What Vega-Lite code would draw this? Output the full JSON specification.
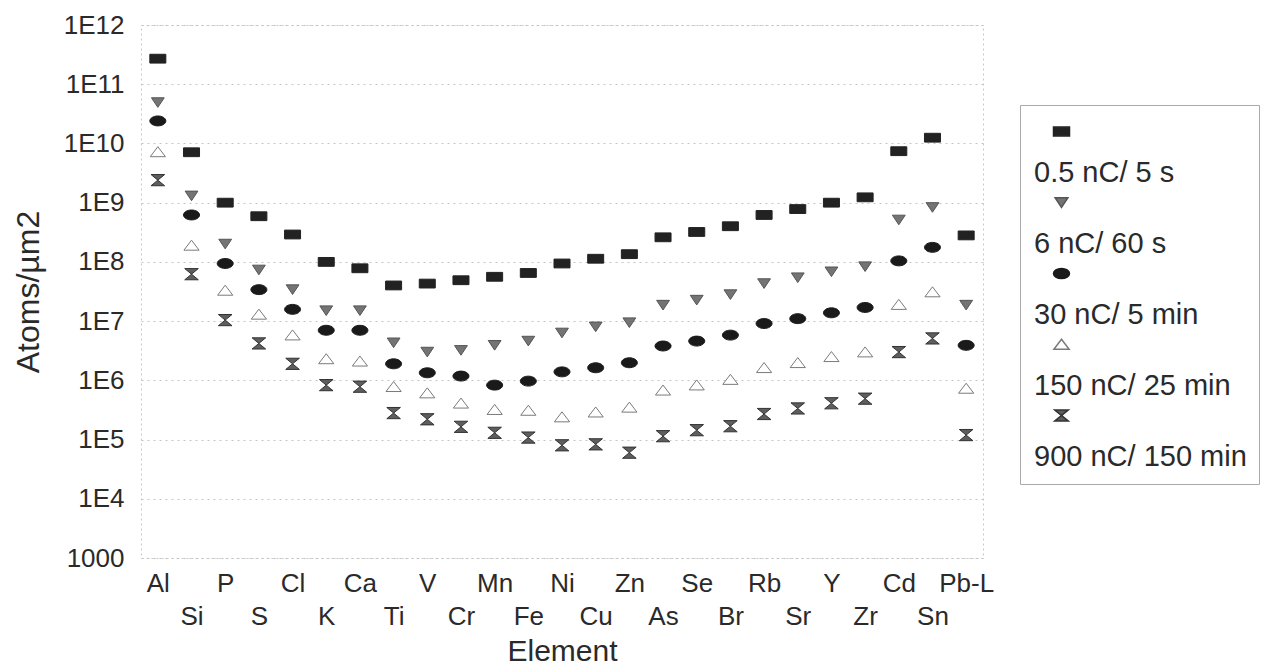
{
  "$schema": "https://vega.github.io/schema/vega-lite/v6.json",
  "width": 842,
  "height": 533,
  "autosize": "none",
  "padding": {"left": 141, "top": 25, "right": 290, "bottom": 110},
  "background": "white",
  "config": {
    "font": "Liberation Sans",
    "view": {"stroke": "#c8c8c8", "strokeDash": [2, 3]}
  },
  "data": {
    "values": [
      {"el": "Al", "s": "0.5 nC/ 5 s", "v": 2.7e11}, {"el": "Al", "s": "6 nC/ 60 s", "v": 4.9e10}, {"el": "Al", "s": "30 nC/ 5 min", "v": 2.4e10}, {"el": "Al", "s": "150 nC/ 25 min", "v": 7.2e9}, {"el": "Al", "s": "900 nC/ 150 min", "v": 2.4e9},
      {"el": "Si", "s": "0.5 nC/ 5 s", "v": 7.1e9}, {"el": "Si", "s": "6 nC/ 60 s", "v": 1.3e9}, {"el": "Si", "s": "30 nC/ 5 min", "v": 6.2e8}, {"el": "Si", "s": "150 nC/ 25 min", "v": 1.9e8}, {"el": "Si", "s": "900 nC/ 150 min", "v": 6.2e7},
      {"el": "P", "s": "0.5 nC/ 5 s", "v": 1.0e9}, {"el": "P", "s": "6 nC/ 60 s", "v": 2.0e8}, {"el": "P", "s": "30 nC/ 5 min", "v": 9.4e7}, {"el": "P", "s": "150 nC/ 25 min", "v": 3.3e7}, {"el": "P", "s": "900 nC/ 150 min", "v": 1.04e7},
      {"el": "S", "s": "0.5 nC/ 5 s", "v": 5.9e8}, {"el": "S", "s": "6 nC/ 60 s", "v": 7.3e7}, {"el": "S", "s": "30 nC/ 5 min", "v": 3.4e7}, {"el": "S", "s": "150 nC/ 25 min", "v": 1.3e7}, {"el": "S", "s": "900 nC/ 150 min", "v": 4.2e6},
      {"el": "Cl", "s": "0.5 nC/ 5 s", "v": 2.9e8}, {"el": "Cl", "s": "6 nC/ 60 s", "v": 3.4e7}, {"el": "Cl", "s": "30 nC/ 5 min", "v": 1.58e7}, {"el": "Cl", "s": "150 nC/ 25 min", "v": 5.8e6}, {"el": "Cl", "s": "900 nC/ 150 min", "v": 1.9e6},
      {"el": "K", "s": "0.5 nC/ 5 s", "v": 1.0e8}, {"el": "K", "s": "6 nC/ 60 s", "v": 1.5e7}, {"el": "K", "s": "30 nC/ 5 min", "v": 7.0e6}, {"el": "K", "s": "150 nC/ 25 min", "v": 2.3e6}, {"el": "K", "s": "900 nC/ 150 min", "v": 8.3e5},
      {"el": "Ca", "s": "0.5 nC/ 5 s", "v": 7.8e7}, {"el": "Ca", "s": "6 nC/ 60 s", "v": 1.5e7}, {"el": "Ca", "s": "30 nC/ 5 min", "v": 7.0e6}, {"el": "Ca", "s": "150 nC/ 25 min", "v": 2.1e6}, {"el": "Ca", "s": "900 nC/ 150 min", "v": 7.8e5},
      {"el": "Ti", "s": "0.5 nC/ 5 s", "v": 4.0e7}, {"el": "Ti", "s": "6 nC/ 60 s", "v": 4.3e6}, {"el": "Ti", "s": "30 nC/ 5 min", "v": 1.9e6}, {"el": "Ti", "s": "150 nC/ 25 min", "v": 7.8e5}, {"el": "Ti", "s": "900 nC/ 150 min", "v": 2.8e5},
      {"el": "V", "s": "0.5 nC/ 5 s", "v": 4.3e7}, {"el": "V", "s": "6 nC/ 60 s", "v": 3.0e6}, {"el": "V", "s": "30 nC/ 5 min", "v": 1.34e6}, {"el": "V", "s": "150 nC/ 25 min", "v": 6.1e5}, {"el": "V", "s": "900 nC/ 150 min", "v": 2.2e5},
      {"el": "Cr", "s": "0.5 nC/ 5 s", "v": 4.9e7}, {"el": "Cr", "s": "6 nC/ 60 s", "v": 3.2e6}, {"el": "Cr", "s": "30 nC/ 5 min", "v": 1.18e6}, {"el": "Cr", "s": "150 nC/ 25 min", "v": 4.1e5}, {"el": "Cr", "s": "900 nC/ 150 min", "v": 1.64e5},
      {"el": "Mn", "s": "0.5 nC/ 5 s", "v": 5.6e7}, {"el": "Mn", "s": "6 nC/ 60 s", "v": 3.9e6}, {"el": "Mn", "s": "30 nC/ 5 min", "v": 8.3e5}, {"el": "Mn", "s": "150 nC/ 25 min", "v": 3.2e5}, {"el": "Mn", "s": "900 nC/ 150 min", "v": 1.3e5},
      {"el": "Fe", "s": "0.5 nC/ 5 s", "v": 6.5e7}, {"el": "Fe", "s": "6 nC/ 60 s", "v": 4.6e6}, {"el": "Fe", "s": "30 nC/ 5 min", "v": 9.7e5}, {"el": "Fe", "s": "150 nC/ 25 min", "v": 3.1e5}, {"el": "Fe", "s": "900 nC/ 150 min", "v": 1.08e5},
      {"el": "Ni", "s": "0.5 nC/ 5 s", "v": 9.4e7}, {"el": "Ni", "s": "6 nC/ 60 s", "v": 6.3e6}, {"el": "Ni", "s": "30 nC/ 5 min", "v": 1.39e6}, {"el": "Ni", "s": "150 nC/ 25 min", "v": 2.4e5}, {"el": "Ni", "s": "900 nC/ 150 min", "v": 8.0e4},
      {"el": "Cu", "s": "0.5 nC/ 5 s", "v": 1.13e8}, {"el": "Cu", "s": "6 nC/ 60 s", "v": 8.0e6}, {"el": "Cu", "s": "30 nC/ 5 min", "v": 1.63e6}, {"el": "Cu", "s": "150 nC/ 25 min", "v": 2.9e5}, {"el": "Cu", "s": "900 nC/ 150 min", "v": 8.3e4},
      {"el": "Zn", "s": "0.5 nC/ 5 s", "v": 1.35e8}, {"el": "Zn", "s": "6 nC/ 60 s", "v": 9.4e6}, {"el": "Zn", "s": "30 nC/ 5 min", "v": 1.98e6}, {"el": "Zn", "s": "150 nC/ 25 min", "v": 3.5e5}, {"el": "Zn", "s": "900 nC/ 150 min", "v": 6.0e4},
      {"el": "As", "s": "0.5 nC/ 5 s", "v": 2.6e8}, {"el": "As", "s": "6 nC/ 60 s", "v": 1.86e7}, {"el": "As", "s": "30 nC/ 5 min", "v": 3.8e6}, {"el": "As", "s": "150 nC/ 25 min", "v": 6.8e5}, {"el": "As", "s": "900 nC/ 150 min", "v": 1.14e5},
      {"el": "Se", "s": "0.5 nC/ 5 s", "v": 3.2e8}, {"el": "Se", "s": "6 nC/ 60 s", "v": 2.26e7}, {"el": "Se", "s": "30 nC/ 5 min", "v": 4.6e6}, {"el": "Se", "s": "150 nC/ 25 min", "v": 8.3e5}, {"el": "Se", "s": "900 nC/ 150 min", "v": 1.44e5},
      {"el": "Br", "s": "0.5 nC/ 5 s", "v": 4.0e8}, {"el": "Br", "s": "6 nC/ 60 s", "v": 2.8e7}, {"el": "Br", "s": "30 nC/ 5 min", "v": 5.8e6}, {"el": "Br", "s": "150 nC/ 25 min", "v": 1.03e6}, {"el": "Br", "s": "900 nC/ 150 min", "v": 1.68e5},
      {"el": "Rb", "s": "0.5 nC/ 5 s", "v": 6.2e8}, {"el": "Rb", "s": "6 nC/ 60 s", "v": 4.3e7}, {"el": "Rb", "s": "30 nC/ 5 min", "v": 9.1e6}, {"el": "Rb", "s": "150 nC/ 25 min", "v": 1.63e6}, {"el": "Rb", "s": "900 nC/ 150 min", "v": 2.7e5},
      {"el": "Sr", "s": "0.5 nC/ 5 s", "v": 7.8e8}, {"el": "Sr", "s": "6 nC/ 60 s", "v": 5.4e7}, {"el": "Sr", "s": "30 nC/ 5 min", "v": 1.1e7}, {"el": "Sr", "s": "150 nC/ 25 min", "v": 1.98e6}, {"el": "Sr", "s": "900 nC/ 150 min", "v": 3.35e5},
      {"el": "Y", "s": "0.5 nC/ 5 s", "v": 1.0e9}, {"el": "Y", "s": "6 nC/ 60 s", "v": 6.8e7}, {"el": "Y", "s": "30 nC/ 5 min", "v": 1.38e7}, {"el": "Y", "s": "150 nC/ 25 min", "v": 2.5e6}, {"el": "Y", "s": "900 nC/ 150 min", "v": 4.1e5},
      {"el": "Zr", "s": "0.5 nC/ 5 s", "v": 1.23e9}, {"el": "Zr", "s": "6 nC/ 60 s", "v": 8.3e7}, {"el": "Zr", "s": "30 nC/ 5 min", "v": 1.7e7}, {"el": "Zr", "s": "150 nC/ 25 min", "v": 3.0e6}, {"el": "Zr", "s": "900 nC/ 150 min", "v": 4.9e5},
      {"el": "Cd", "s": "0.5 nC/ 5 s", "v": 7.4e9}, {"el": "Cd", "s": "6 nC/ 60 s", "v": 5.1e8}, {"el": "Cd", "s": "30 nC/ 5 min", "v": 1.04e8}, {"el": "Cd", "s": "150 nC/ 25 min", "v": 1.9e7}, {"el": "Cd", "s": "900 nC/ 150 min", "v": 3.0e6},
      {"el": "Sn", "s": "0.5 nC/ 5 s", "v": 1.25e10}, {"el": "Sn", "s": "6 nC/ 60 s", "v": 8.3e8}, {"el": "Sn", "s": "30 nC/ 5 min", "v": 1.76e8}, {"el": "Sn", "s": "150 nC/ 25 min", "v": 3.1e7}, {"el": "Sn", "s": "900 nC/ 150 min", "v": 5.1e6},
      {"el": "Pb-L", "s": "0.5 nC/ 5 s", "v": 2.8e8}, {"el": "Pb-L", "s": "6 nC/ 60 s", "v": 1.86e7}, {"el": "Pb-L", "s": "30 nC/ 5 min", "v": 3.9e6}, {"el": "Pb-L", "s": "150 nC/ 25 min", "v": 7.3e5}, {"el": "Pb-L", "s": "900 nC/ 150 min", "v": 1.19e5}
    ]
  },
  "mark": {"type": "point", "filled": true, "size": 256, "strokeWidth": 1, "opacity": 1},
  "encoding": {
    "x": {
      "field": "el",
      "type": "nominal",
      "sort": null,
      "scale": {"padding": 0.5},
      "axis": {
        "title": "Element",
        "labelAngle": 0,
        "ticks": false,
        "domain": false,
        "grid": false,
        "labelPadding": 12,
        "labelFontSize": 26,
        "labelLineHeight": 33,
        "labelBaseline": "top",
        "labelOverlap": false,
        "labelColor": "#2a2a2a",
        "labelExpr": "indexof(['Si','S','K','Ti','Cr','Fe','Cu','As','Br','Sr','Zr','Sn'], datum.value) >= 0 ? ['', datum.label] : datum.label",
        "titleFontSize": 30,
        "titleFontWeight": "normal",
        "titleColor": "#2a2a2a",
        "titlePadding": 7
      }
    },
    "y": {
      "field": "v",
      "type": "quantitative",
      "scale": {"type": "log", "domain": [1000, 1e12], "nice": false},
      "axis": {
        "title": "Atoms/µm2",
        "values": [1e3, 1e4, 1e5, 1e6, 1e7, 1e8, 1e9, 1e10, 1e11, 1e12],
        "labelExpr": "datum.value < 2000 ? '1000' : '1E' + round(log(datum.value) / LN10)",
        "grid": true,
        "gridDash": [2, 4],
        "gridColor": "#c4c4c4",
        "ticks": false,
        "domain": false,
        "labelFlush": false,
        "labelOverlap": false,
        "labelFontSize": 26,
        "labelPadding": 17,
        "labelColor": "#2a2a2a",
        "titleFontSize": 32,
        "titleFontWeight": "normal",
        "titleColor": "#2a2a2a",
        "titlePadding": 18
      }
    },
    "shape": {
      "field": "s",
      "type": "nominal",
      "scale": {
        "domain": ["0.5 nC/ 5 s", "6 nC/ 60 s", "30 nC/ 5 min", "150 nC/ 25 min", "900 nC/ 150 min"],
        "range": [
          "M-1,-0.55 L1,-0.55 L1,0.55 L-1,0.55 Z",
          "M-0.8,-0.6 L0.8,-0.6 L0,0.6 Z",
          "M-1,0 A1,0.62 0 1,0 1,0 A1,0.62 0 1,0 -1,0 Z",
          "M0,-0.65 L0.95,0.6 L-0.95,0.6 Z",
          "M-0.85,-0.7 L0.85,-0.7 L0,0 Z M-0.85,0.7 L0.85,0.7 L0,0 Z"
        ]
      },
      "legend": {
        "title": null,
        "orient": "none",
        "legendX": 879,
        "legendY": 80,
        "direction": "vertical",
        "padding": 12,
        "strokeColor": "#aaa",
        "fillColor": "white",
        "symbolSize": 256,
        "symbolOffset": 15,
        "labelOffset": 0,
        "labelFontSize": 29,
        "labelColor": "#2a2a2a",
        "labelLimit": 400,
        "rowPadding": -1,
        "encoding": {"labels": {"dx": {"value": -42}, "dy": {"value": 41}}}
      }
    },
    "fill": {
      "field": "s",
      "type": "nominal",
      "scale": {
        "domain": ["0.5 nC/ 5 s", "6 nC/ 60 s", "30 nC/ 5 min", "150 nC/ 25 min", "900 nC/ 150 min"],
        "range": ["#222222", "#747474", "#1a1a1a", "#ffffff", "#5e5e5e"]
      }
    },
    "stroke": {
      "field": "s",
      "type": "nominal",
      "scale": {
        "domain": ["0.5 nC/ 5 s", "6 nC/ 60 s", "30 nC/ 5 min", "150 nC/ 25 min", "900 nC/ 150 min"],
        "range": ["#222222", "#555555", "#1a1a1a", "#7a7a7a", "#333333"]
      }
    }
  }
}
